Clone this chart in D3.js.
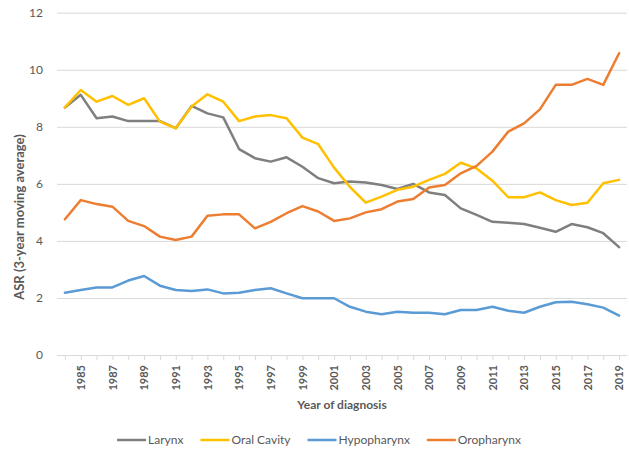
<!DOCTYPE html>
<html>
<head>
<meta charset="utf-8">
<script src="https://cdn.jsdelivr.net/npm/d3@7"></script>
<style>
  body { margin: 0; background: #fff; }
  svg { display: block; font-family: Lato, "Liberation Sans", sans-serif; }
</style>
</head>
<body>
<script>
// years of diagnosis, 1984..2019
const years = d3.range(1984, 2020);
const yTicks = [0, 2, 4, 6, 8, 10, 12];

// ASR values
const larynx = [8.68, 9.12, 8.30, 8.36, 8.20, 8.20, 8.20, 7.95, 8.73, 8.47, 8.33, 7.22,
  6.90, 6.78, 6.93, 6.60, 6.20, 6.02, 6.08, 6.05, 5.96, 5.82, 6.00, 5.70,
  5.61, 5.14, 4.91, 4.67, 4.64, 4.59, 4.46, 4.32, 4.59, 4.48, 4.27, 3.78];
const oralCavity = [8.68, 9.29, 8.88, 9.08, 8.77, 9.00, 8.18, 7.95, 8.71, 9.14, 8.88, 8.20,
  8.36, 8.41, 8.30, 7.62, 7.39, 6.57, 5.89, 5.34, 5.55, 5.79, 5.90, 6.14,
  6.35, 6.74, 6.54, 6.11, 5.53, 5.53, 5.70, 5.43, 5.26, 5.34, 6.02, 6.14];
const hypopharynx = [2.18, 2.28, 2.37, 2.37, 2.61, 2.77, 2.43, 2.28, 2.24, 2.30, 2.16, 2.18,
  2.28, 2.34, 2.16, 1.99, 1.99, 1.99, 1.69, 1.52, 1.43, 1.52, 1.48, 1.48,
  1.43, 1.58, 1.58, 1.69, 1.55, 1.48, 1.69, 1.85, 1.87, 1.78, 1.66, 1.38];
const oropharynx = [4.76, 5.43, 5.29, 5.20, 4.70, 4.52, 4.15, 4.03, 4.15, 4.88, 4.93, 4.93,
  4.44, 4.67, 4.97, 5.22, 5.03, 4.70, 4.79, 5.00, 5.11, 5.38, 5.47, 5.87,
  5.96, 6.37, 6.63, 7.13, 7.83, 8.12, 8.61, 9.47, 9.47, 9.68, 9.47, 10.58];

const seriesNames = ['Larynx', 'Oral Cavity', 'Hypopharynx', 'Oropharynx'];
const seriesValues = [larynx, oralCavity, hypopharynx, oropharynx];
const colors = ['#7f7f7f', '#ffc000', '#5b9bd5', '#ed7d31'];

const svgWidth = 629;
const svgHeight = 452;
const plot = { left: 57, right: 627, top: 12.7, bottom: 355 };

const svg = d3.select('body')
  .append('svg')
  .attr('width', svgWidth)
  .attr('height', svgHeight);

const xScale = d3.scalePoint().domain(years).range([plot.left, plot.right]).padding(0.5);
const yScale = d3.scaleLinear().domain([0, 12]).range([plot.bottom, plot.top]);

// horizontal gridlines + y labels
const yAxis = svg.append('g')
  .call(d3.axisLeft(yScale).tickValues(yTicks).tickSize(0).tickPadding(0));
yAxis.select('.domain').remove();
yAxis.selectAll('.tick line')
  .attr('x1', plot.left).attr('x2', plot.right)
  .attr('stroke', '#d9d9d9').attr('stroke-width', 1);
yAxis.selectAll('.tick text')
  .attr('x', 43)
  .attr('fill', '#595959')
  .style('font-size', '12px')
  .style('font-family', 'Lato, sans-serif');

// x axis with tick at each year, label every other year
const xAxis = svg.append('g')
  .attr('transform', `translate(0, ${plot.bottom})`)
  .call(d3.axisBottom(xScale).tickSize(5).tickSizeOuter(0)
    .tickFormat(d => d % 2 === 1 ? d : ''));
xAxis.select('.domain')
  .attr('d', `M${plot.left},0.5H${plot.right}`)
  .attr('stroke', '#d9d9d9');
xAxis.selectAll('.tick line').attr('stroke', '#d9d9d9');
xAxis.selectAll('.tick text')
  .attr('transform', 'rotate(-90)')
  .attr('x', -10).attr('y', 0).attr('dy', '0.35em')
  .attr('text-anchor', 'end')
  .attr('fill', '#595959')
  .style('font-size', '11px')
  .style('font-weight', 'bold')
  .style('font-family', 'Lato, sans-serif');

// lines
const line = d3.line()
  .x((d, i) => xScale(years[i]))
  .y(d => yScale(d));

svg.append('g')
  .selectAll('path')
  .data(seriesValues)
  .join('path')
  .attr('fill', 'none')
  .attr('stroke', (d, i) => colors[i])
  .attr('stroke-width', 2.5)
  .attr('stroke-linejoin', 'round')
  .attr('stroke-linecap', 'round')
  .attr('d', line);

// axis titles
svg.append('text')
  .attr('transform', 'translate(24, 217) rotate(-90)')
  .attr('text-anchor', 'middle')
  .attr('fill', '#595959')
  .style('font-size', '13px')
  .style('font-weight', 'bold')
  .text('ASR (3-year moving average)');

svg.append('text')
  .attr('x', 342).attr('y', 409)
  .attr('text-anchor', 'middle')
  .attr('fill', '#595959')
  .style('font-size', '12px')
  .style('font-weight', 'bold')
  .text('Year of diagnosis');

// legend
const legend = svg.append('g').attr('transform', 'translate(0, 440)');
const items = legend.selectAll('g')
  .data(seriesNames)
  .join('g');
items.append('line')
  .attr('x1', 0).attr('x2', 29)
  .attr('stroke', (d, i) => colors[i])
  .attr('stroke-width', 2.5);
items.append('text')
  .attr('x', 31).attr('dy', '0.35em')
  .attr('fill', '#595959')
  .style('font-size', '12px')
  .text(d => d);

let offset = 0;
const widths = [];
items.each(function () {
  const w = 31 + this.querySelector('text').getComputedTextLength();
  widths.push(w);
});
const gap = 17;
const total = d3.sum(widths) + gap * (widths.length - 1);
offset = 319 - total / 2;
items.attr('transform', (d, i) => {
  const x = offset;
  offset += widths[i] + gap;
  return `translate(${x}, 0)`;
});
</script>
</body>
</html>
